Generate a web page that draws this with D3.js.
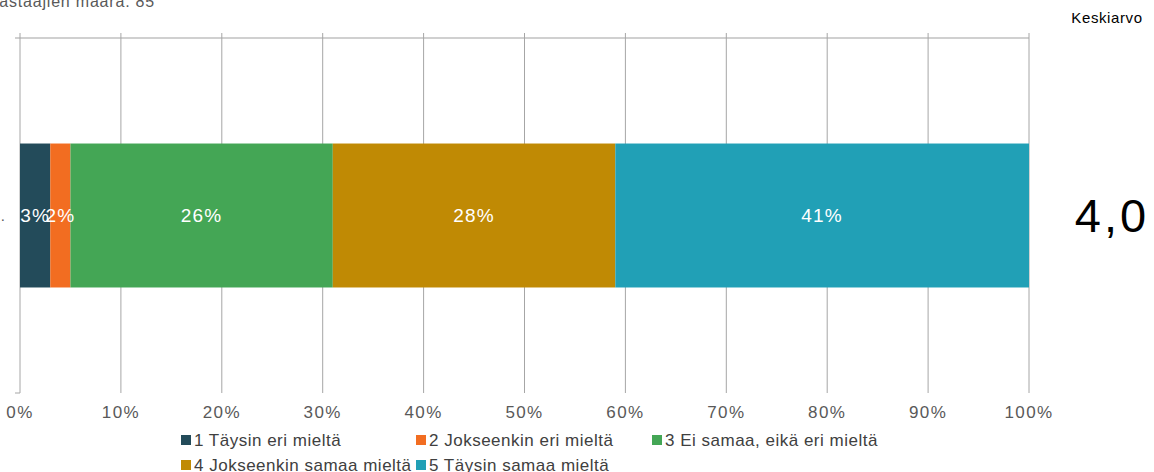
<!DOCTYPE html>
<html><head><meta charset="utf-8">
<script src="https://cdn.jsdelivr.net/npm/d3@7"></script>
<style>body{margin:0;background:#fff}svg{display:block;font-family:"Liberation Sans",Arial,sans-serif}</style>
</head><body><svg id="c" width="1154" height="472"></svg>
<script>
const categories = ["1 Täysin eri mieltä","2 Jokseenkin eri mieltä","3 Ei samaa, eikä eri mieltä","4 Jokseenkin samaa mieltä","5 Täysin samaa mieltä"];
const values = [3,2,26,28,41];
const colors = ["#234b5a","#f26d21","#44a655","#c08a04","#21a0b6"];
const ticks = [0,10,20,30,40,50,60,70,80,90,100];
const rowLabel = ".";
const mean = "4,0";
const title = "Vastaajien määrä: 85";

const svg = d3.select("#c");
const x = d3.scaleLinear().domain([0,100]).range([20,1029]);
const y = d3.scaleBand().domain([rowLabel]).range([38,393]).paddingInner(0).paddingOuter(0.733);

// gridlines
svg.append("line").attr("x1",15).attr("x2",x(100)).attr("y1",38).attr("y2",38).attr("stroke","#c0c0c0").attr("stroke-width",1.5);
svg.selectAll("line.g").data(ticks).enter().append("line").attr("class","g")
  .attr("x1",d=>x(d)).attr("x2",d=>x(d)).attr("y1",33).attr("y2",393)
  .attr("stroke","#a6a6a6").attr("stroke-width",1);
svg.append("line").attr("x1",15).attr("x2",20).attr("y1",393).attr("y2",393).attr("stroke","#a6a6a6");

// bars
let cum = 0;
const segs = values.map((v,i)=>{const s={v,i,start:cum};cum+=v;return s;});
const by = y(rowLabel), bh = y.bandwidth();
svg.selectAll("rect.b").data(segs).enter().append("rect")
  .attr("x",d=>x(d.start)).attr("width",d=>x(d.start+d.v)-x(d.start))
  .attr("y",by).attr("height",bh).attr("fill",d=>colors[d.i]);
svg.selectAll("text.v").data(segs).enter().append("text")
  .attr("x",d=>x(d.start+d.v/2)).attr("y",by+bh/2).attr("dy","0.35em")
  .attr("text-anchor","middle").attr("fill","#fff").attr("font-size",19).attr("letter-spacing",1.2)
  .text(d=>d.v+"%");

// axis labels
svg.selectAll("text.t").data(ticks).enter().append("text")
  .attr("x",d=>x(d)).attr("y",418).attr("text-anchor","middle")
  .attr("fill","#595959").attr("font-size",17).attr("letter-spacing",1.4).text(d=>d+"%");

// row label
svg.append("text").attr("x",5).attr("y",by+bh/2).attr("dy","0.35em").attr("text-anchor","end")
  .attr("fill","#595959").attr("font-size",15).text(rowLabel);

// title
svg.append("text").attr("x",-11).attr("y",7).attr("fill","#595959").attr("font-size",16).attr("letter-spacing",0.8).text(title);

// mean
svg.append("text").attr("x",1107).attr("y",23).attr("text-anchor","middle").attr("fill","#000").attr("font-size",15).attr("letter-spacing",0.6).text("Keskiarvo");
svg.append("text").attr("x",1112).attr("y",by+bh/2).attr("dy","0.35em").attr("text-anchor","middle").attr("fill","#000").attr("font-size",47).attr("letter-spacing",3).text(mean);

// legend
const legPos = [[181,440],[416,440],[652,440],[181,465],[416,465]];
const lg = svg.selectAll("g.l").data(categories).enter().append("g")
  .attr("transform",(d,i)=>`translate(${legPos[i][0]},${legPos[i][1]})`);
lg.append("rect").attr("x",0).attr("y",-5).attr("width",10).attr("height",10).attr("fill",(d,i)=>colors[i]);
lg.append("text").attr("x",13).attr("y",0).attr("dy","0.35em").attr("fill","#404040").attr("font-size",17).attr("letter-spacing",0.5).text(d=>d);
</script></body></html>
